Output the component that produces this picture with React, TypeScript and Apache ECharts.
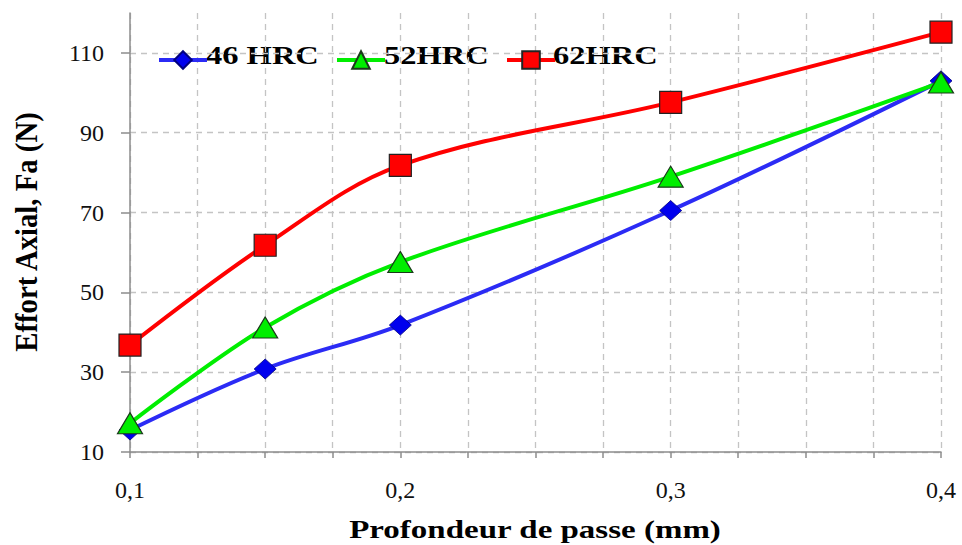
import React, { useEffect, useRef } from "react";
import * as echarts from "echarts";

const depths = [0.1, 0.15, 0.2, 0.3, 0.4];
const hrc46 = [15.5, 30.8, 41.8, 70.5, 103];
const hrc52 = [17.2, 41.2, 57.6, 79, 102.6];
const hrc62 = [36.8, 61.8, 81.8, 97.6, 115.2];
const seriesNames = ["46 HRC", "52HRC", "62HRC"];
const yTickValues = [10, 30, 50, 70, 90, 110];
const xLabelValues = [0.1, 0.2, 0.3, 0.4];
const xTitle = "Profondeur de passe (mm)";
const yTitle = "Effort Axial, Fa (N)";

const FONT = "'Liberation Serif', 'Times New Roman', serif";

export default function App() {
  const ref = useRef<HTMLDivElement>(null);
  useEffect(() => {
    if (!ref.current) return;
    const chart = echarts.init(ref.current, null, { renderer: "svg" });
    const mk = (vals: number[]) => vals.map((v, i) => [depths[i], v]);
    const legendBase = {
      top: 44,
      itemWidth: 48,
      itemHeight: 22,
      itemGap: 0,
      formatter: () => "",
      textStyle: { fontSize: 1 },
      lineStyle: { width: 4 },
    };
    const boldText = (
      text: string,
      x: number,
      y: number,
      sx: number,
      sy: number,
      rot: number,
      align: string
    ) => ({
      type: "text",
      x,
      y,
      scaleX: sx,
      scaleY: sy,
      rotation: rot,
      silent: true,
      style: {
        text,
        x: 0,
        y: 0,
        fill: "#000",
        fontFamily: FONT,
        fontWeight: "bold",
        fontSize: 25,
        textAlign: align,
        textVerticalAlign: "middle",
      },
    });
    chart.setOption({
      animation: false,
      backgroundColor: "#fff",
      grid: { left: 130, top: 13, right: 21, bottom: 93 },
      legend: [
        { ...legendBase, left: 152, data: [seriesNames[0]] },
        { ...legendBase, left: 330, data: [seriesNames[1]] },
        { ...legendBase, left: 500, data: [seriesNames[2]] },
      ],
      graphic: [
        boldText(seriesNames[0], 206, 55, 1.3, 1, 0, "left"),
        boldText(seriesNames[1], 384, 55, 1.3, 1, 0, "left"),
        boldText(seriesNames[2], 553, 55, 1.3, 1, 0, "left"),
        boldText(xTitle, 535, 529, 1.32, 1, 0, "center"),
        boldText(yTitle, 26, 232, 1.15, 1.3, Math.PI / 2, "center"),
      ],
      xAxis: {
        type: "value",
        min: 0.1,
        max: 0.4,
        interval: 0.025,
        axisLine: { show: true, lineStyle: { color: "#8c8c8c", width: 1.5 } },
        axisTick: { show: true, length: 6, lineStyle: { color: "#8c8c8c", width: 1.5 } },
        axisLabel: {
          customValues: xLabelValues,
          formatter: (v: number) => v.toFixed(1).replace(".", ","),
          fontFamily: FONT,
          fontSize: 24,
          color: "#111",
          margin: 26,
        },
        splitLine: {
          show: true,
          lineStyle: { color: "#c4c4c4", type: [6, 5], width: 1.3 },
        },
      },
      yAxis: {
        type: "value",
        min: 10,
        max: 120,
        interval: 10,
        axisLine: { show: true, lineStyle: { color: "#8c8c8c", width: 1.5 } },
        axisTick: {
          show: true,
          length: 9,
          customValues: yTickValues,
          lineStyle: { color: "#8c8c8c", width: 1.5 },
        },
        axisLabel: {
          customValues: yTickValues,
          fontFamily: FONT,
          fontSize: 24,
          color: "#111",
          margin: 26,
        },
        splitLine: {
          show: true,
          lineStyle: { color: "#c4c4c4", type: [6, 5], width: 1.3 },
        },
      },
      series: [
        {
          name: seriesNames[0],
          type: "line",
          smooth: 0.35,
          data: mk(hrc46),
          symbol: "diamond",
          symbolSize: [22, 20],
          lineStyle: { color: "#2b2bf5", width: 4 },
          itemStyle: { color: "#0000ee", borderColor: "#000080", borderWidth: 0.8 },
          z: 3,
        },
        {
          name: seriesNames[1],
          type: "line",
          smooth: 0.35,
          data: mk(hrc52),
          symbol: "triangle",
          symbolSize: [25, 21],
          lineStyle: { color: "#00ee00", width: 4 },
          itemStyle: { color: "#00ee00", borderColor: "#1a3a1a", borderWidth: 1.2 },
          z: 4,
        },
        {
          name: seriesNames[2],
          type: "line",
          smooth: 0.35,
          data: mk(hrc62),
          symbol: "rect",
          symbolSize: 22,
          lineStyle: { color: "#ff0000", width: 4 },
          itemStyle: { color: "#ff0000", borderColor: "#222", borderWidth: 1.2 },
          z: 5,
        },
      ],
    });
    return () => chart.dispose();
  }, []);
  return <div ref={ref} style={{ width: 962, height: 545, position: "absolute", left: 0, top: 0 }} />;
}
